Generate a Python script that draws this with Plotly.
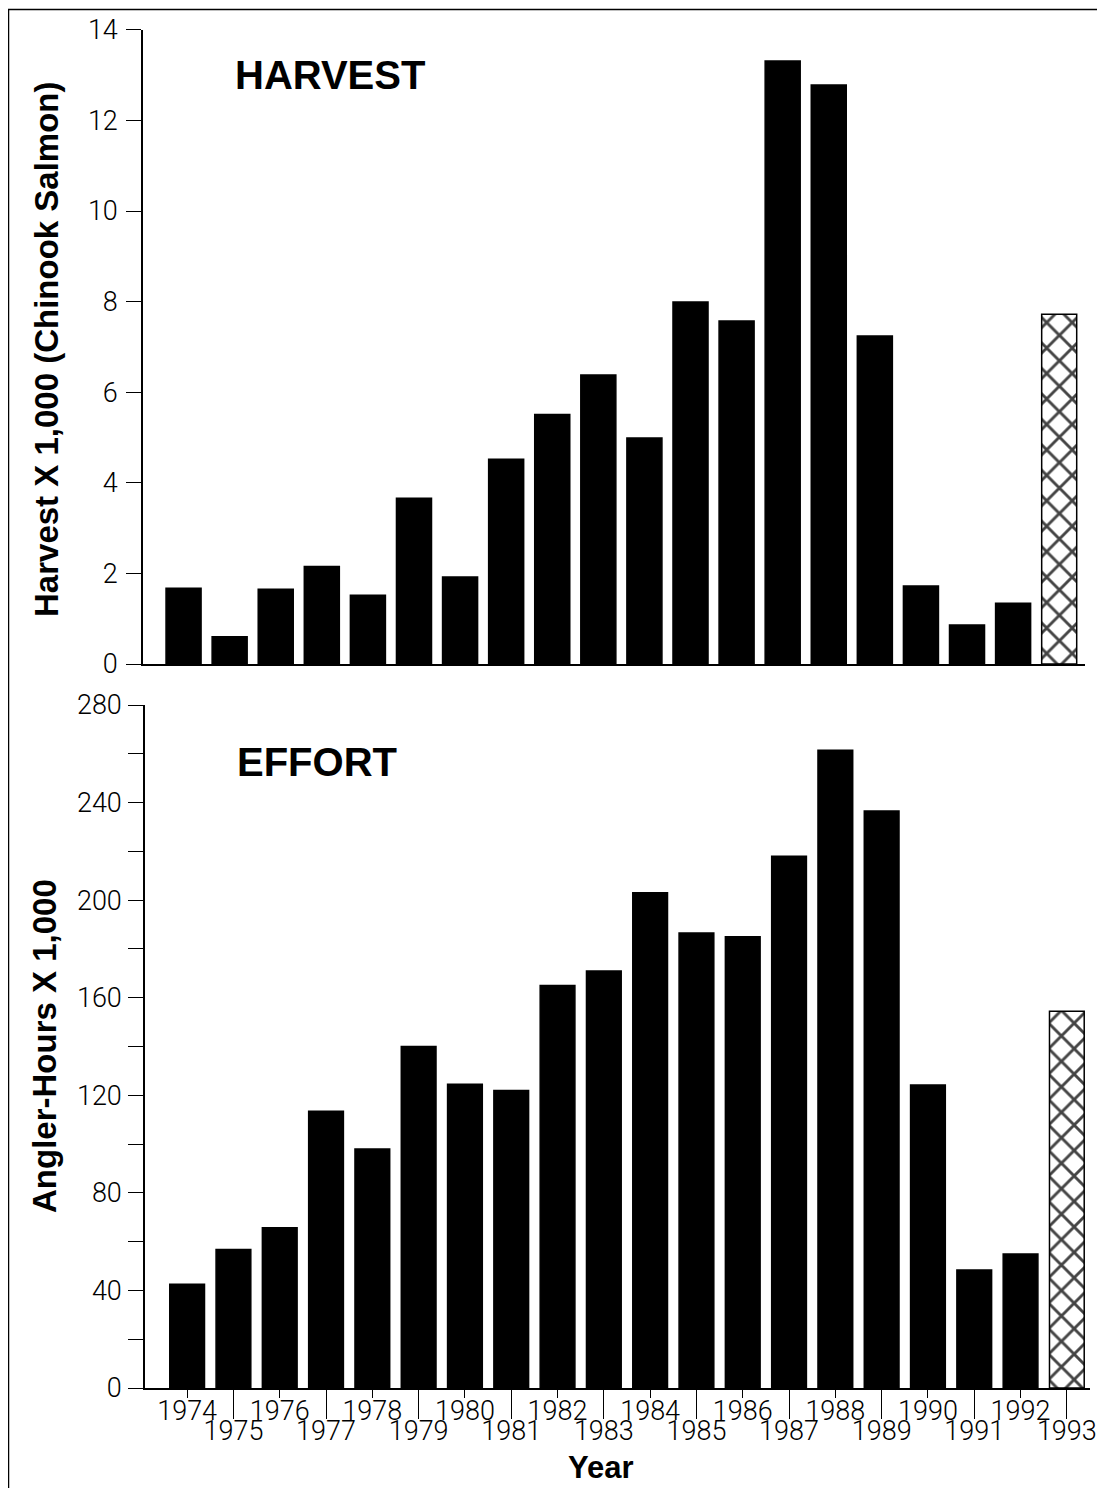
import plotly.graph_objects as go

W, H = 1105, 1488
OFF = 8  # page body margin offset

years = list(range(1974, 1994))
harvest = [1.67, 0.60, 1.65, 2.15, 1.52, 3.66, 1.92, 4.52, 5.51, 6.38, 4.99,
           7.99, 7.57, 13.31, 12.78, 7.24, 1.72, 0.86, 1.34, 7.72]
effort = [42.5, 56.8, 65.7, 113.5, 98.0, 140.0, 124.5, 122.0, 165.0, 171.0, 203.0,
          186.5, 185.0, 218.0, 261.5, 236.5, 124.2, 48.4, 54.9, 154.5]
even_years = [y for y in years if y % 2 == 0]
odd_years = [y for y in years if y % 2 == 1]
harvest_ticks = list(range(0, 15, 2))
effort_ticks = list(range(0, 281, 40))

colors = ["black"] * 19 + ["white"]
shapes = [""] * 19 + ["x"]

def px_x(p):
    return (p - OFF) / W

def px_y(p):
    return 1 - (p - OFF) / H

tick_font = dict(family="Roboto", size=27, color="black", weight=300)
title_font = dict(family="Liberation Sans", size=33, color="black", weight="bold")

bar_marker = dict(
    color=colors,
    line=dict(color="black", width=1.5),
    pattern=dict(shape=shapes, fgcolor="black", fgopacity=1, fillmode="overlay",
                 size=18, solidity=0.3),
)

fig = go.Figure()
fig.add_trace(go.Bar(x=years, y=harvest, width=0.76, marker=bar_marker,
                     xaxis="x", yaxis="y", showlegend=False, hoverinfo="x+y"))
fig.add_trace(go.Bar(x=years, y=effort, width=0.75, marker=bar_marker,
                     xaxis="x2", yaxis="y2", showlegend=False, hoverinfo="x+y"))
fig.add_trace(go.Scatter(x=[None], y=[None], xaxis="x3", yaxis="y2",
                         showlegend=False, hoverinfo="skip"))

fig.update_layout(
    width=W, height=H,
    margin=dict(l=0, r=0, t=0, b=0, autoexpand=False),
    paper_bgcolor="white", plot_bgcolor="white",
    bargap=0.24,
    xaxis=dict(domain=[px_x(143), px_x(1085)], range=[1973.12, 1993.56],
               anchor="y", showline=True, linecolor="black", linewidth=1.5,
               ticks="", showticklabels=False, showgrid=False, zeroline=False,
               automargin=False),
    yaxis=dict(domain=[px_y(664), px_y(29.8)], range=[0, 14], anchor="x",
               tickvals=harvest_ticks, ticks="outside", ticklen=15, tickwidth=1.3,
               tickcolor="black", showline=True, linecolor="black", linewidth=1.5,
               showgrid=False, zeroline=False, tickfont=tick_font,
               ticklabelstandoff=3, automargin=False),
    xaxis2=dict(domain=[px_x(145), px_x(1090)], range=[1973.09, 1993.5],
                anchor="y2", showline=True, linecolor="black", linewidth=1.5,
                tickvals=even_years, ticktext=[str(y) for y in even_years],
                ticks="outside", ticklen=8, tickwidth=1.2, tickcolor="black",
                showgrid=False, zeroline=False, tickfont=tick_font, automargin=False,
                ticklabelstandoff=-10),
    xaxis3=dict(overlaying="x2", anchor="y2", range=[1973.09, 1993.5],
                showline=False, tickvals=odd_years, ticktext=[str(y) for y in odd_years],
                ticks="outside", ticklen=30, tickwidth=1.2, tickcolor="black",
                showgrid=False, zeroline=False, tickfont=tick_font, automargin=False,
                ticklabelstandoff=-11),
    yaxis2=dict(domain=[px_y(1388), px_y(705)], range=[0, 280], anchor="x2",
                tickvals=effort_ticks, ticks="outside", ticklen=15, tickwidth=1.3,
                tickcolor="black", showline=True, linecolor="black", linewidth=1.5,
                minor=dict(dtick=20, tick0=0, ticks="outside", ticklen=15,
                           tickwidth=1.2, tickcolor="black", showgrid=False),
                showgrid=False, zeroline=False, tickfont=tick_font,
                ticklabelstandoff=1, automargin=False),
    shapes=[dict(type="rect", xref="paper", yref="paper",
                 x0=px_x(8.5), x1=px_x(1101), y0=-0.02, y1=px_y(9.5),
                 line=dict(color="black", width=1.5), fillcolor="rgba(0,0,0,0)",
                 layer="below")],
    annotations=[
        dict(text="HARVEST", x=px_x(330), y=px_y(75), xref="paper", yref="paper",
             showarrow=False, xanchor="center", yanchor="middle",
             font=dict(family="Liberation Sans", size=40, color="black", weight="bold")),
        dict(text="EFFORT", x=px_x(317), y=px_y(762), xref="paper", yref="paper",
             showarrow=False, xanchor="center", yanchor="middle",
             font=dict(family="Liberation Sans", size=40, color="black", weight="bold")),
        dict(text="Harvest X 1,000 (Chinook Salmon)", x=px_x(47), y=px_y(349),
             xref="paper", yref="paper", showarrow=False, textangle=-90,
             xanchor="center", yanchor="middle", font=title_font),
        dict(text="Angler-Hours X 1,000", x=px_x(44), y=px_y(1046),
             xref="paper", yref="paper", showarrow=False, textangle=-90,
             xanchor="center", yanchor="middle", font=title_font),
        dict(text="Year", x=px_x(601), y=px_y(1467), xref="paper", yref="paper",
             showarrow=False, xanchor="center", yanchor="middle", borderpad=0,
             font=dict(family="Liberation Sans", size=31, color="black", weight="bold")),
    ],
)

fig.write_html("out.html")
